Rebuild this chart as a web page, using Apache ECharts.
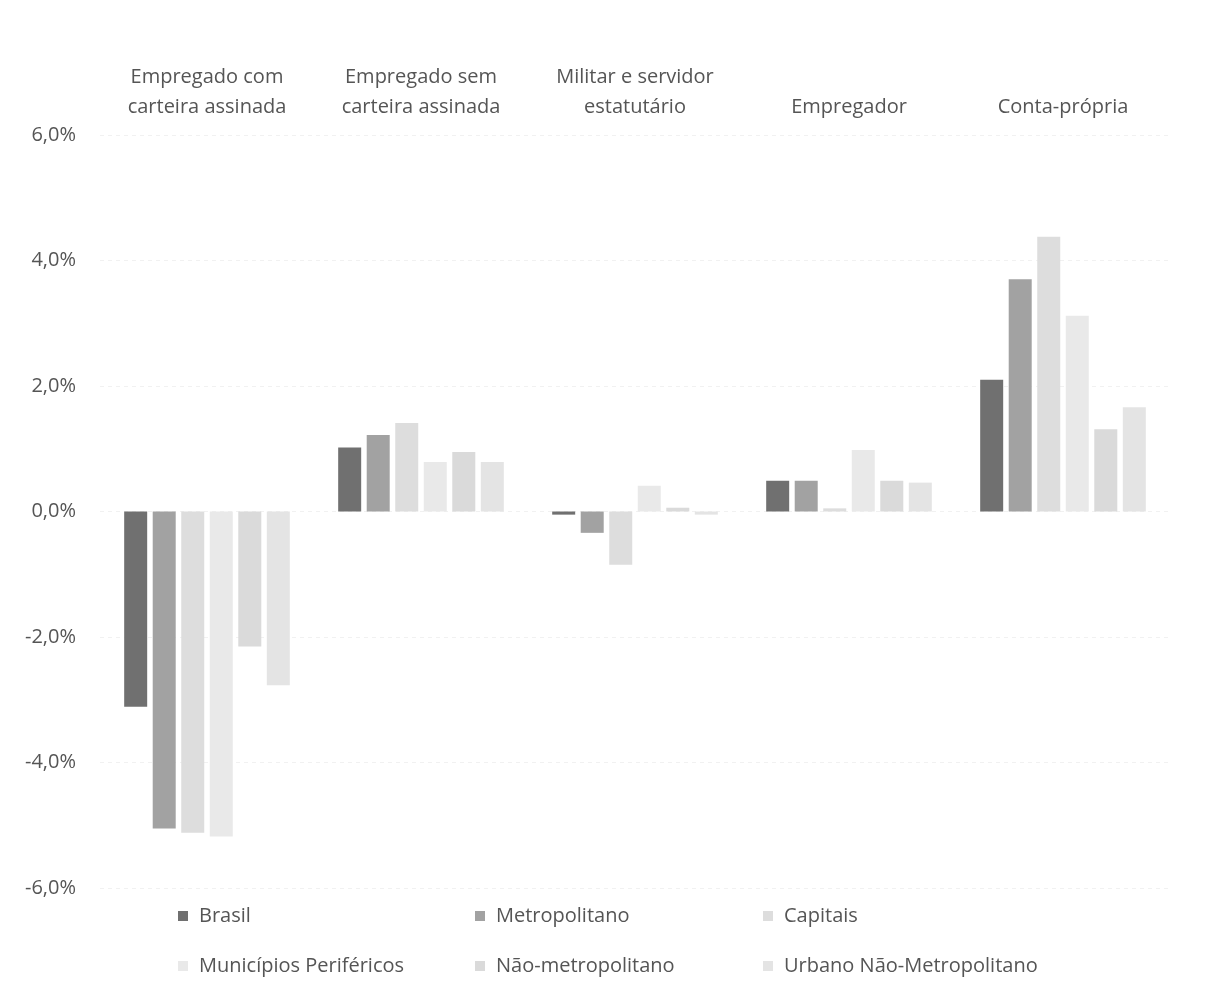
<!DOCTYPE html>
<html>
<head>
<meta charset="utf-8">
<title>Variação da ocupação por posição na ocupação</title>
<script src="https://cdn.jsdelivr.net/npm/echarts@6/dist/echarts.min.js"></script>
<style>
  html, body { margin: 0; padding: 0; background: #ffffff; }
  #chart { width: 1208px; height: 984px; }
</style>
</head>
<body>
<div id="chart"></div>
<script>
// Categories: position in occupation
const categories = [
  'Empregado com\ncarteira assinada',
  'Empregado sem\ncarteira assinada',
  'Militar e servidor\nestatutário',
  'Empregador',
  'Conta-própria'
];

// Series values (percentage points)
const brasil        = [-3.11,  1.02, -0.05, 0.49, 2.10];
const metropolitano = [-5.05,  1.22, -0.34, 0.49, 3.70];
const capitais      = [-5.12,  1.41, -0.85, 0.05, 4.38];
const municipiosPer = [-5.18,  0.79,  0.41, 0.98, 3.12];
const naoMetro      = [-2.15,  0.95,  0.06, 0.49, 1.31];
const urbanoNaoMetro= [-2.77,  0.79, -0.05, 0.46, 1.66];

const seriesNames = [
  'Brasil', 'Metropolitano', 'Capitais',
  'Municípios Periféricos', 'Não-metropolitano', 'Urbano Não-Metropolitano'
];
const seriesData = [brasil, metropolitano, capitais, municipiosPer, naoMetro, urbanoNaoMetro];
const seriesColors = ['#707070', '#a2a2a2', '#dddddd', '#e9e9e9', '#dadada', '#e4e4e4'];

// Y axis ticks
const yMin = -6, yMax = 6, yStep = 2;

const textColor = '#555555';
const fontFamily = '"Open Sans", "Noto Sans", sans-serif';
const fontSize = 20;

const chart = echarts.init(document.getElementById('chart'), null, { renderer: 'canvas' });

// Legend laid out as three columns of two rows each
const legendBase = {
  orient: 'vertical',
  icon: 'rect',
  itemWidth: 10,
  itemHeight: 10,
  itemGap: 22,
  padding: 0,
  top: 902,
  height: 80,
  textStyle: {
    color: textColor, fontSize: fontSize, fontFamily: fontFamily,
    lineHeight: 28, padding: [0, 0, 0, 6]
  }
};

chart.setOption({
  animation: false,
  backgroundColor: '#ffffff',
  color: seriesColors,
  textStyle: { fontFamily: fontFamily },
  grid: { left: 100, right: 38, top: 135, bottom: 96 },
  legend: [
    Object.assign({}, legendBase, { left: 178, data: [seriesNames[0], seriesNames[3]] }),
    Object.assign({}, legendBase, { left: 475, data: [seriesNames[1], seriesNames[4]] }),
    Object.assign({}, legendBase, { left: 763, data: [seriesNames[2], seriesNames[5]] })
  ],
  xAxis: {
    type: 'category',
    position: 'top',
    data: categories,
    axisLine: { show: false },
    axisTick: { show: false },
    axisLabel: {
      interval: 0,
      margin: 13,
      color: textColor,
      fontSize: fontSize,
      lineHeight: 30,
      fontFamily: fontFamily
    }
  },
  yAxis: {
    type: 'value',
    min: yMin,
    max: yMax,
    interval: yStep,
    axisLine: { show: false },
    axisTick: { show: false },
    splitLine: { lineStyle: { color: '#f1f1f1', type: [4, 4], width: 1 } },
    axisLabel: {
      color: textColor,
      fontSize: fontSize,
      fontFamily: fontFamily,
      margin: 24,
      formatter: v => v.toFixed(1).replace('.', ',') + '%'
    }
  },
  series: seriesNames.map((name, i) => ({
    name: name,
    type: 'bar',
    data: seriesData[i],
    barGap: '24%',
    barCategoryGap: '22.6%',
    itemStyle: { color: seriesColors[i] }
  }))
});
</script>
</body>
</html>
